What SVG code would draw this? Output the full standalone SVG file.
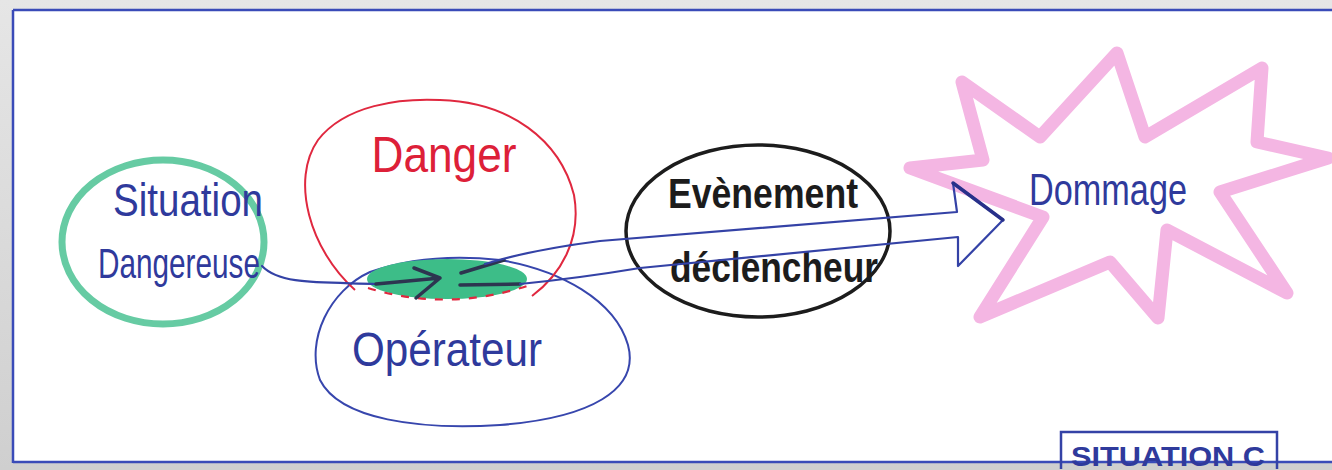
<svg xmlns="http://www.w3.org/2000/svg" width="1332" height="470" viewBox="0 0 1332 470">
<defs>
<linearGradient id="bg" x1="0" y1="0" x2="0" y2="1"><stop offset="0" stop-color="#e6e6e6"/><stop offset="1" stop-color="#cfcfcf"/></linearGradient>
<style>
.hand{font-family:"Liberation Sans",sans-serif;}
.blue{fill:#2f3a9c;}
.ink{fill:none;stroke:#3442a6;stroke-width:2.2;stroke-linecap:round;stroke-linejoin:round;}
</style>
</defs>
<rect width="1332" height="470" fill="url(#bg)"/>
<rect x="13" y="9" width="1325" height="454" fill="#ffffff"/>
<path d="M13 10 H1332 M13 10 V463 M13 462 H1332" fill="none" stroke="#3a4bb8" stroke-width="2.5"/>

<g id="dommage">
<path d="M910 168 L983 160 L962 82 L1040 137 L1117 53 L1145 137 L1262 68 L1257 142 L1328 158 L1220 192 L1287 293 L1167 230 L1158 318 L1110 262 L980 317 L1043 217 Z" fill="none" stroke="#f4b6e3" stroke-width="13" stroke-linejoin="round"/>
<text class="hand blue" x="1108" y="205" font-size="44" text-anchor="middle" textLength="158" lengthAdjust="spacingAndGlyphs">Dommage</text>
</g>

<g id="situation-dangereuse">
<ellipse cx="163" cy="242" rx="101" ry="82" fill="none" stroke="#66cba3" stroke-width="7"/>
<text class="hand blue" x="188" y="216" font-size="46" text-anchor="middle" textLength="150" lengthAdjust="spacingAndGlyphs">Situation</text>
<text class="hand blue" x="179" y="278" font-size="42" text-anchor="middle" textLength="162" lengthAdjust="spacingAndGlyphs">Dangereuse</text>
</g>

<g id="operateur">
<path d="M370 272 C330 290 305 340 320 380 C340 420 420 430 500 425 C590 418 640 390 628 345 C615 300 560 270 500 260 C455 255 410 258 370 272 Z" fill="none" stroke="#3746ad" stroke-width="2"/>
<text class="hand blue" x="447" y="366" font-size="48" text-anchor="middle" textLength="190" lengthAdjust="spacingAndGlyphs">Opérateur</text>
</g>

<g id="intersection">
<ellipse cx="447" cy="279" rx="80" ry="20" fill="#3dbd88"/>
<path d="M368 288 Q447 312 527 286" fill="none" stroke="#e0283f" stroke-width="2.2" stroke-dasharray="8 9"/>
</g>

<g id="danger">
<path d="M355 290 C310 250 290 180 318 140 C345 105 400 98 440 100 C510 102 560 140 574 195 C582 240 560 275 532 296" fill="none" stroke="#e0283f" stroke-width="2"/>
<text x="444" y="172" font-family="Liberation Sans, sans-serif" font-size="50" fill="#dd2038" text-anchor="middle" textLength="145" lengthAdjust="spacingAndGlyphs">Danger</text>
</g>

<g id="evenement">
<ellipse cx="758" cy="231" rx="132" ry="86" fill="none" stroke="#1c1c1c" stroke-width="3.5"/>
<text x="763" y="208" font-family="Liberation Sans, sans-serif" font-size="42" font-weight="bold" fill="#1c1c1c" text-anchor="middle" textLength="190" lengthAdjust="spacingAndGlyphs">Evènement</text>
<text x="774" y="282" font-family="Liberation Sans, sans-serif" font-size="42" font-weight="bold" fill="#1c1c1c" text-anchor="middle" textLength="208" lengthAdjust="spacingAndGlyphs">déclencheur</text>
</g>

<g id="connectors">
<path class="ink" d="M262 266 C280 285 320 282 378 284"/>
<path d="M376 284 L440 278 M414 268 L440 278 L416 298" fill="none" stroke="#2d3550" stroke-width="3.5" stroke-linecap="round" stroke-linejoin="round"/>
<path d="M460 285 L520 284 M461 273 L504 260" fill="none" stroke="#2d3550" stroke-width="3.5" stroke-linecap="round"/>
<path class="ink" d="M485 264 Q530 250 600 241 L957 212 L953 183 L1003 220 L958 266 L958 237 L640 268 Q580 278 520 284"/>
<path d="M953 183 L1003 220" fill="none" stroke="#28308a" stroke-width="3.5" stroke-linecap="round"/>
</g>

<g id="label">
<path d="M1061 469 V432 H1277 V469" fill="none" stroke="#3442a6" stroke-width="2.5"/>
<text class="hand blue" x="1168" y="466" font-size="28" font-weight="bold" text-anchor="middle" textLength="194" lengthAdjust="spacingAndGlyphs">SITUATION C</text>
</g>
</svg>
